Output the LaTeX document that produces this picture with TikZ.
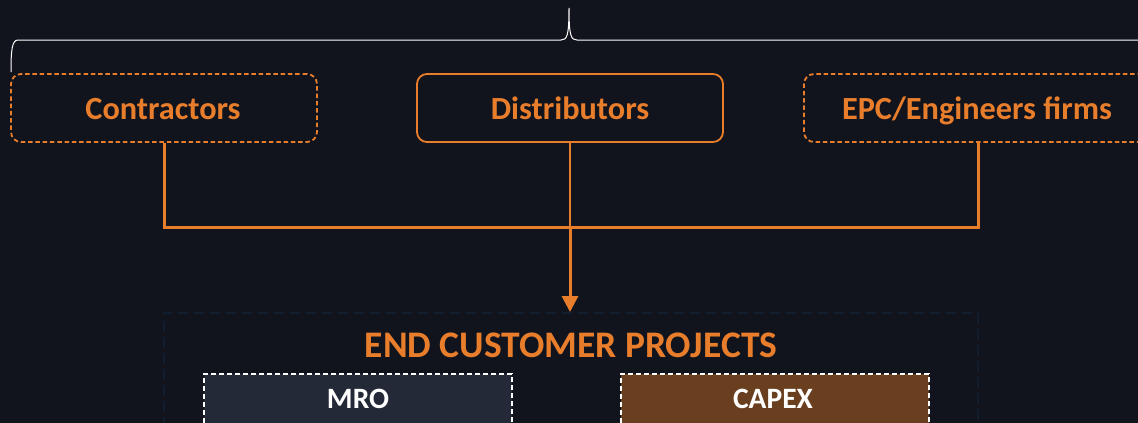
\documentclass[tikz,border=0pt]{standalone}
\usepackage{fontspec}
\setmainfont{Carlito}
\usetikzlibrary{arrows.meta}
\definecolor{bgdark}{RGB}{18,20,29}
\definecolor{accent}{RGB}{232,126,44}
\definecolor{framedark}{RGB}{16,30,48}
\definecolor{mrofill}{RGB}{35,41,54}
\definecolor{capexfill}{RGB}{105,63,31}
\tikzset{
  channel/.style={draw=accent, line width=1.8pt, rounded corners=10pt,
    minimum width=306pt, minimum height=68pt, inner sep=0pt},
  channeldashed/.style={channel, dash pattern=on 4.5pt off 2.8pt},
  channeltext/.style={text=accent, font=\bfseries\fontsize{32.3}{36}\selectfont,
    inner sep=0pt, anchor=base},
  feed/.style={draw=accent, line width=3pt},
  segment/.style={draw=white, line width=2pt, dash pattern=on 5pt off 3pt,
    minimum width=308pt, minimum height=60pt, inner sep=0pt, anchor=north west},
  segtext/.style={text=white, font=\bfseries\fontsize{29.5}{32}\selectfont,
    inner sep=0pt, anchor=base},
}
\begin{document}
\begin{tikzpicture}[x=1pt,y=-1pt]
  \useasboundingbox (0,0) rectangle (1138,423);
  \fill[bgdark] (0,0) rectangle (1138,423);
  \clip (0,0) rectangle (1138,423);

  % grouping brace over the three channels
  \draw[white, line width=1pt]
    (11,72) .. controls (11,50) and (12,40) .. (18,40) -- (561,40)
    .. controls (567,40) and (569,36) .. (569,8)
    .. controls (569,36) and (571,40) .. (577,40) -- (1150,40);

  % channel boxes
  \node[channeldashed] (contractors) at (164,108) {};
  \node[channeltext] (contractorslbl) at (163,119.5) {Contractors};
  \node[channel] (distributors) at (570,108) {};
  \node[channeltext] (distributorslbl) at (570,119.5) {Distributors};
  \node[channeldashed, minimum width=348pt] (epc) at (978,108) {};
  \node[channeltext] (epclbl) at (977,119.5) {EPC/Engineers firms};

  % end-customer frame
  \node[draw=framedark, line width=2pt, dash pattern=on 10pt off 6pt,
        minimum width=814pt, minimum height=140pt, anchor=north west, inner sep=0pt]
        (frame) at (163,312) {};
  \node[text=accent, font=\bfseries\fontsize{37.5}{40}\selectfont, inner sep=0pt, anchor=base]
        (title) at (571,357.5) {END CUSTOMER PROJECTS};

  % segments
  \node[segment, fill=mrofill] (mro) at (203,373) {};
  \node[segtext] (mrolbl) at (358,408.5) {MRO};
  \node[segment, fill=capexfill] (capex) at (620,373) {};
  \node[segtext] (capexlbl) at (773,408.5) {CAPEX};

  % routing into the end customer
  \coordinate (bus) at (570,227);
  \draw[feed] (contractors.south) |- (bus) -| (epc.south);
  \draw[accent, line width=2pt] (distributors.south) -- (bus);
  \draw[accent, line width=3pt, -{Triangle[length=16pt,width=16pt]}] (bus) -- (frame.north -| bus);
\end{tikzpicture}
\end{document}
